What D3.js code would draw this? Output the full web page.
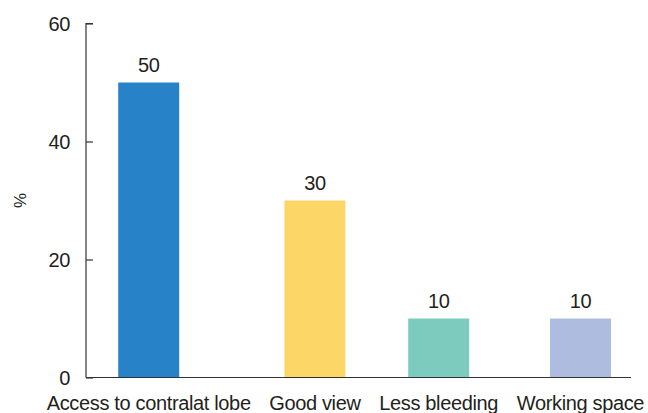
<!DOCTYPE html>
<html>
<head>
<meta charset="utf-8">
<script src="https://cdn.jsdelivr.net/npm/d3@7/dist/d3.min.js"></script>
<style>
  html, body { margin: 0; padding: 0; background: #fff; }
  svg { display: block; }
  text { font-family: "Liberation Sans", Arial, Helvetica, sans-serif; fill: #231f20; }
</style>
</head>
<body>
<svg id="chart" width="648" height="413"></svg>
<script>
// Reasons given, share of respondents (%)
const categories = ["Access to contralat lobe", "Good view", "Less bleeding", "Working space"];
const values = [50, 30, 10, 10];
const colors = ["#2882c7", "#fdd668", "#7dcbbe", "#adbcdf"];
const yTicks = [0, 20, 40, 60];

const axisX = 86, axisRight = 631;
const plotTop = 23.5, plotBottom = 377.5;
const labelLeft = 47, labelRight = 644, labelGap = 19;
const barWidth = 61;
const fontSize = 20, letterSpacing = -0.35;

const svg = d3.select("#chart");

const y = d3.scaleLinear().domain([0, 60]).range([plotBottom, plotTop]);

// Category labels sit side by side with a fixed gap; each category's slot is
// as wide as its label, so measure the labels first.
const labels = svg.append("g").attr("class", "x-labels")
  .selectAll("text").data(categories).join("text")
  .attr("font-size", fontSize)
  .attr("letter-spacing", letterSpacing)
  .attr("text-anchor", "middle")
  .attr("y", 410)
  .text(d => d);

const widths = labels.nodes().map(n => n.getComputedTextLength());
let acc = 0;
const centersU = widths.map((w, i) => {
  const c = acc + w / 2;
  acc += w + (i < widths.length - 1 ? labelGap : 0);
  return c;
});
const x = d3.scaleLinear().domain([0, acc]).range([labelLeft, labelRight]);
const xPos = d3.scaleOrdinal().domain(categories).range(centersU.map(c => x(c)));

labels.attr("x", d => xPos(d));

// Bars
svg.append("g").attr("class", "bars")
  .selectAll("rect").data(categories).join("rect")
  .attr("x", d => xPos(d) - barWidth / 2)
  .attr("width", barWidth)
  .attr("y", (d, i) => y(values[i]))
  .attr("height", (d, i) => y(0) - y(values[i]))
  .attr("fill", (d, i) => colors[i]);

// Value labels above bars
svg.append("g").attr("class", "values")
  .selectAll("text").data(categories).join("text")
  .attr("font-size", fontSize)
  .attr("letter-spacing", letterSpacing)
  .attr("text-anchor", "middle")
  .attr("x", d => xPos(d))
  .attr("y", (d, i) => y(values[i]) - 11)
  .text((d, i) => values[i]);

// Y axis with inward ticks
const yAxis = d3.axisRight(y).tickValues(yTicks).tickSize(7).tickFormat("");
const gy = svg.append("g").attr("transform", `translate(${axisX},0)`).call(yAxis);
gy.select(".domain").attr("stroke", "#333").attr("stroke-width", 1.2)
  .attr("d", `M7,${y(60)}H0V${y(0)}`);
gy.selectAll(".tick line").attr("stroke", "#333").attr("stroke-width", 1.2);

svg.append("g").attr("class", "y-labels")
  .selectAll("text").data(yTicks).join("text")
  .attr("font-size", fontSize)
  .attr("letter-spacing", letterSpacing)
  .attr("text-anchor", "end")
  .attr("x", 70)
  .attr("y", d => y(d) + 7)
  .text(d => d);

// Baseline
svg.append("line")
  .attr("x1", axisX).attr("x2", axisRight)
  .attr("y1", y(0)).attr("y2", y(0))
  .attr("stroke", "#333").attr("stroke-width", 1.2);

// Y axis title
svg.append("text")
  .attr("font-size", 17)
  .attr("text-anchor", "middle")
  .attr("transform", `translate(26,${(plotTop + plotBottom) / 2}) rotate(-90)`)
  .text("%");
</script>
</body>
</html>
